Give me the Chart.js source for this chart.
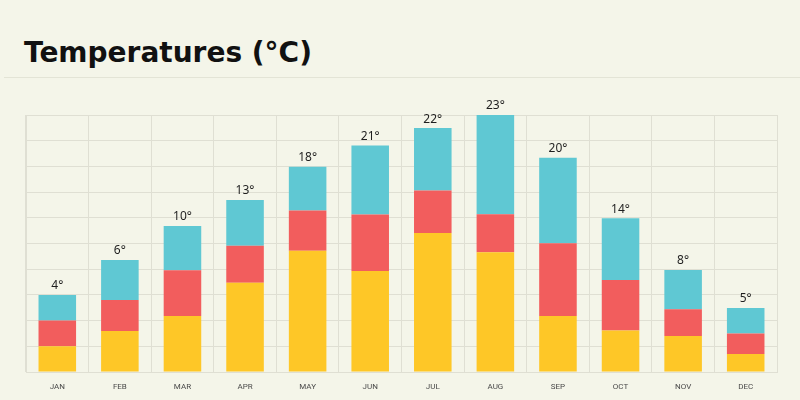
<!DOCTYPE html>
<html>
<head>
<meta charset="utf-8">
<script src="https://cdn.jsdelivr.net/npm/chart.js@4.4.1/dist/chart.umd.min.js"></script>
<style>
    html, body { margin: 0; padding: 0; background: #f4f5e9; }
    #wrap { position: relative; width: 800px; height: 400px; overflow: hidden; }
    #title {
        position: absolute; left: 24px; top: 36px; margin: 0;
        font-family: "DejaVu Sans", sans-serif; font-weight: 700; font-size: 28px;
        color: #111; line-height: 34px;
    }
    #rule { position: absolute; left: 4px; right: 0; top: 77px; height: 1px; background: #e3e4d6; }
    #tempChart { position: absolute; left: 0; top: 0; }
</style>
</head>
<body>
<div id="wrap">
    <h1 id="title">Temperatures (°C)</h1>
    <div id="rule"></div>
    <canvas id="tempChart" width="800" height="400"></canvas>
</div>
<script>
const months = ['JAN', 'FEB', 'MAR', 'APR', 'MAY', 'JUN', 'JUL', 'AUG', 'SEP', 'OCT', 'NOV', 'DEC'];
// stacked segment heights in grid units
const lowPart  = [1.0, 1.6, 2.18, 3.47, 4.72, 3.93, 5.41, 4.66, 2.18, 1.61, 1.4, 0.7];
const midPart  = [1.0, 1.2, 1.78, 1.44, 1.56, 2.2, 1.65, 1.48, 2.83, 1.97, 1.04, 0.8];
const highPart = [1.0, 1.56, 1.72, 1.78, 1.71, 2.68, 2.43, 3.86, 3.33, 2.4, 1.53, 0.99];
const totals   = [4, 6, 10, 13, 18, 21, 22, 23, 20, 14, 8, 5];

// labels above each stack
const topLabels = {
    id: 'topLabels',
    afterDatasetsDraw(chart) {
        const ctx = chart.ctx;
        const meta = chart.getDatasetMeta(chart.data.datasets.length - 1);
        ctx.save();
        ctx.font = '12px "Noto Sans", sans-serif';
        ctx.fillStyle = '#1e1e1e';
        ctx.textAlign = 'center';
        ctx.textBaseline = 'bottom';
        meta.data.forEach((bar, i) => {
            ctx.fillText(totals[i] + '°', bar.x, bar.y - 3);
        });
        ctx.restore();
    }
};

const ctx = document.getElementById('tempChart').getContext('2d');
new Chart(ctx, {
    type: 'bar',
    data: {
        labels: months,
        datasets: [{
            data: lowPart,
            backgroundColor: '#fec727'
        }, {
            data: midPart,
            backgroundColor: '#f25d5d'
        }, {
            data: highPart,
            backgroundColor: '#5fc8d3'
        }]
    },
    options: {
        responsive: false,
        animation: false,
        layout: { padding: { left: 26, right: 23, top: 115, bottom: 0 } },
        datasets: { bar: { barPercentage: 0.6, categoryPercentage: 1.0 } },
        plugins: {
            legend: { display: false },
            tooltip: { enabled: false }
        },
        scales: {
            x: {
                stacked: true,
                afterFit(scale) { scale.height = 28; },
                grid: { color: '#dfdfd3', drawTicks: false, offset: true },
                border: { color: '#dfdfd3' },
                ticks: {
                    padding: 10,
                    color: '#4a4a4a',
                    font: { family: 'Roboto', size: 8 }
                }
            },
            y: {
                stacked: true,
                min: 0,
                max: 10,
                afterFit(scale) { scale.width = 0; },
                grid: { color: '#dfdfd3', drawTicks: false },
                border: { color: '#dfdfd3' },
                ticks: { display: false, stepSize: 1 }
            }
        }
    },
    plugins: [topLabels]
});
</script>
</body>
</html>
